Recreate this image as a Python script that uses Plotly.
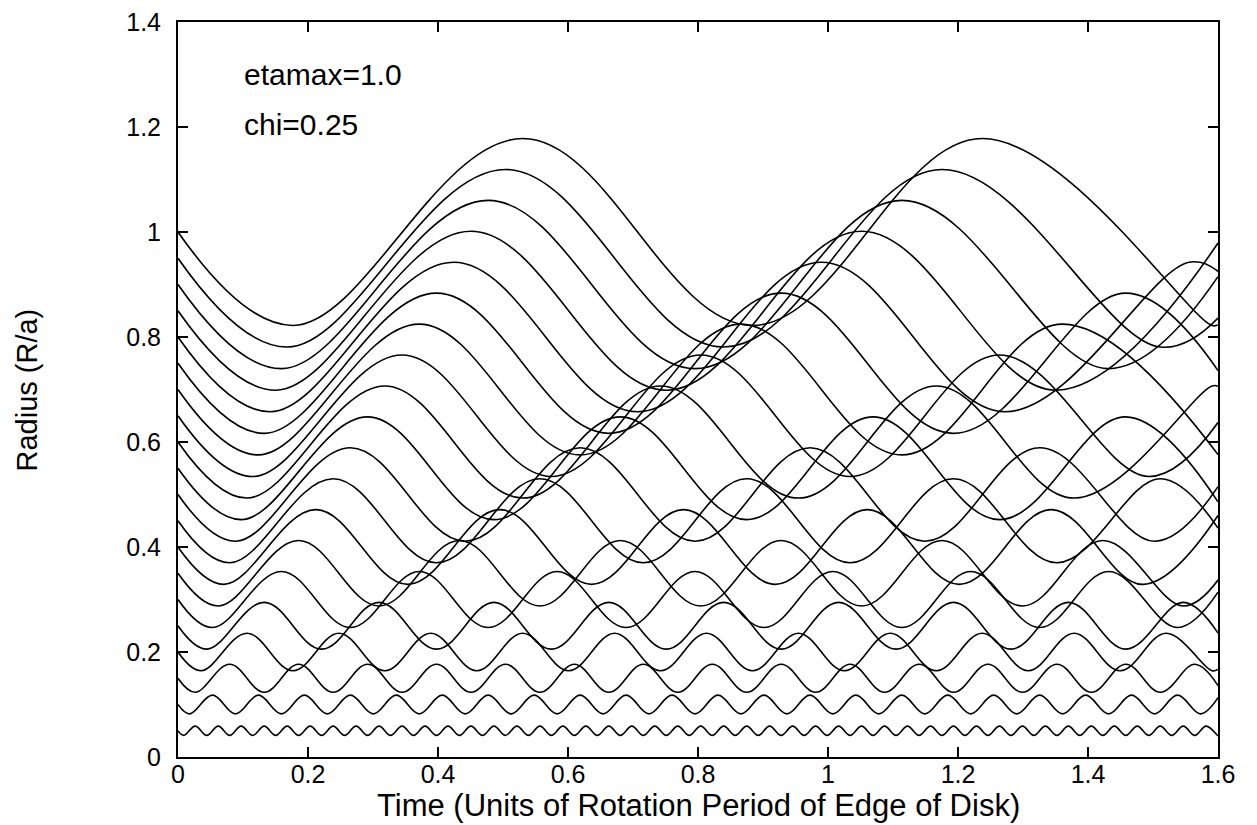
import plotly.graph_objects as go

# Starting radius of each ring (R/a at t=0)
START = [0.05, 0.10, 0.15, 0.20, 0.25, 0.30, 0.35, 0.40, 0.45, 0.50,
         0.55, 0.60, 0.65, 0.70, 0.75, 0.80, 0.85, 0.90, 0.95, 1.00]
# Radius of each ring at the right edge (t=1.6)
END = [0.041, 0.113, 0.136, 0.167, 0.236, 0.314, 0.337, 0.460, 0.436, 0.515,
       0.486, 0.706, 0.637, 0.576, 0.736, 0.925, 0.979, 0.915, 0.836, 0.823]
# Minimum / maximum radius reached by each ring
LO = [0.0411, 0.0822, 0.1233, 0.1644, 0.2055, 0.2466, 0.2877, 0.3288, 0.3699, 0.4110,
      0.4521, 0.4932, 0.5343, 0.5754, 0.6165, 0.6576, 0.6987, 0.7398, 0.7809, 0.8220]
HI = [0.0589, 0.1178, 0.1767, 0.2356, 0.2945, 0.3534, 0.4123, 0.4712, 0.5301, 0.5890,
      0.6479, 0.7068, 0.7657, 0.8246, 0.8835, 0.9424, 1.0013, 1.0602, 1.1191, 1.1780]

# Times of successive turning points (min, max, min, ...) for each ring
T01 = [0.0088, 0.0265, 0.0442, 0.0619, 0.0795, 0.0972, 0.1149, 0.1326, 0.1502, 0.1679,
       0.1856, 0.2033, 0.2210, 0.2386, 0.2563, 0.2740, 0.2917, 0.3093, 0.3270, 0.3447,
       0.3624, 0.3800, 0.3977, 0.4154, 0.4330, 0.4507, 0.4684, 0.4861, 0.5037, 0.5214,
       0.5391, 0.5568, 0.5744, 0.5921, 0.6098, 0.6275, 0.6451, 0.6628, 0.6805, 0.6982,
       0.7158, 0.7335, 0.7512, 0.7689, 0.7865, 0.8042, 0.8219, 0.8395, 0.8572, 0.8749,
       0.8926, 0.9102, 0.9279, 0.9456, 0.9633, 0.9809, 0.9986, 1.0163, 1.0340, 1.0516,
       1.0693, 1.0870, 1.1047, 1.1223, 1.1400, 1.1577, 1.1753, 1.1930, 1.2107, 1.2284,
       1.2460, 1.2637, 1.2814, 1.2991, 1.3167, 1.3344, 1.3521, 1.3698, 1.3874, 1.4051,
       1.4228, 1.4405, 1.4581, 1.4758, 1.4935, 1.5111, 1.5288, 1.5465, 1.5642, 1.5818,
       1.5995]
T02 = [0.0177, 0.0530, 0.0884, 0.1237, 0.1591, 0.1944, 0.2298, 0.2651, 0.3005, 0.3358,
       0.3712, 0.4065, 0.4419, 0.4772, 0.5126, 0.5479, 0.5833, 0.6186, 0.6540, 0.6893,
       0.7247, 0.7600, 0.7954, 0.8307, 0.8661, 0.9014, 0.9368, 0.9721, 1.0075, 1.0428,
       1.0782, 1.1135, 1.1489, 1.1842, 1.2196, 1.2549, 1.2903, 1.3256, 1.3610, 1.3963,
       1.4317, 1.4670, 1.5024, 1.5377, 1.5731]
T03 = [0.0265, 0.0795, 0.1326, 0.1856, 0.2386, 0.2917, 0.3447, 0.3977, 0.4507, 0.5038,
       0.5568, 0.6098, 0.6629, 0.7159, 0.7689, 0.8220, 0.8750, 0.9280, 0.9811, 1.0341,
       1.0871, 1.1402, 1.1932, 1.2462, 1.2992, 1.3523, 1.4053, 1.4583, 1.5114, 1.5644]
T04 = [0.0354, 0.1061, 0.1768, 0.2475, 0.3182, 0.3889, 0.4596, 0.5303, 0.6010, 0.6717,
       0.7424, 0.8131, 0.8838, 0.9545, 1.0252, 1.0959, 1.1666, 1.2373, 1.3080, 1.3787,
       1.4494, 1.5201, 1.5908]
T05 = [0.0442, 0.1326, 0.2209, 0.3093, 0.3977, 0.4861, 0.5744, 0.6628, 0.7512, 0.8396,
       0.9279, 1.0163, 1.1047, 1.1931, 1.2814, 1.3698, 1.4582, 1.5466]
T06 = [0.0530, 0.1591, 0.2651, 0.3712, 0.4772, 0.5833, 0.6893, 0.7954, 0.9014, 1.0075,
       1.1135, 1.2196, 1.3256, 1.4317, 1.5377]
T07 = [0.0619, 0.1856, 0.3093, 0.4330, 0.5568, 0.6805, 0.8042, 0.9279, 1.0517, 1.1754,
       1.2991, 1.4228, 1.5466]
T08 = [0.0707, 0.2121, 0.3535, 0.4949, 0.6363, 0.7777, 0.9191, 1.0605, 1.2019, 1.3433,
       1.4847]
T09 = [0.0795, 0.2386, 0.3977, 0.5568, 0.7158, 0.8749, 1.0340, 1.1931, 1.3521, 1.5112]
T10 = [0.0884, 0.2652, 0.4420, 0.6188, 0.7956, 0.9724, 1.1492, 1.3260, 1.5028]
T11 = [0.0972, 0.2916, 0.4860, 0.6805, 0.8749, 1.0693, 1.2637, 1.4581]
T12 = [0.1061, 0.3182, 0.5303, 0.7424, 0.9545, 1.1666, 1.3787, 1.5908]
T13 = [0.1149, 0.3447, 0.5744, 0.8042, 1.0340, 1.2638, 1.4935]
T14 = [0.1237, 0.3712, 0.6186, 0.8661, 1.1135, 1.3610]
T15 = [0.1326, 0.3977, 0.6628, 0.9279, 1.1930, 1.4582]
T16 = [0.1414, 0.4242, 0.7070, 0.9898, 1.2726, 1.5554]
T17 = [0.1502, 0.4507, 0.7512, 1.0517, 1.3521]
T18 = [0.1591, 0.4772, 0.7954, 1.1135, 1.4317]
T19 = [0.1679, 0.5037, 0.8396, 1.1754, 1.5112]
T20 = [0.1768, 0.5303, 0.8838, 1.2373, 1.5908]

TURNS = [T01, T02, T03, T04, T05, T06, T07, T08, T09, T10,
         T11, T12, T13, T14, T15, T16, T17, T18, T19, T20]

X_TICKS = [0, 0.2, 0.4, 0.6, 0.8, 1.0, 1.2, 1.4, 1.6]
Y_TICKS = [0, 0.2, 0.4, 0.6, 0.8, 1.0, 1.2, 1.4]
T_MAX = 1.6

FONT = "Liberation Sans, Arial, Helvetica, sans-serif"

fig = go.Figure()
for i, times in enumerate(TURNS):
    xs = [0.0]
    ys = [START[i]]
    for j, t in enumerate(times):
        xs.append(t)
        ys.append(LO[i] if j % 2 == 0 else HI[i])
    if xs[-1] < T_MAX:
        xs.append(T_MAX)
        ys.append(END[i])
    fig.add_trace(go.Scatter(
        x=xs, y=ys, mode="lines",
        line=dict(color="black", width=1.6, shape="spline", smoothing=1.1),
        hoverinfo="skip", showlegend=False,
    ))

axis_common = dict(
    showgrid=False, zeroline=False, showline=True, linecolor="black", linewidth=2,
    mirror="ticks", ticks="inside", ticklen=10, tickwidth=1.5, tickcolor="black",
    tickfont=dict(family=FONT, size=25, color="black"),
    ticklabeloverflow="allow", automargin=False,
)
fig.update_xaxes(range=[0, 1.6], tickvals=X_TICKS, ticklabelstandoff=-6, **axis_common)
fig.update_yaxes(range=[0, 1.4], tickvals=Y_TICKS, ticklabelstandoff=10, **axis_common)

fig.add_annotation(x=0.098, y=1.30, xref="x", yref="y", text="etamax=1.0",
                   showarrow=False, xanchor="left", yanchor="middle",
                   font=dict(family=FONT, size=30, color="black"))
fig.add_annotation(x=0.098, y=1.204, xref="x", yref="y", text="chi=0.25",
                   showarrow=False, xanchor="left", yanchor="middle",
                   font=dict(family=FONT, size=30, color="black"))
fig.add_annotation(x=0.5, y=-0.066, xref="paper", yref="paper",
                   text="Time (Units of Rotation Period of Edge of Disk)",
                   showarrow=False, xanchor="center", yanchor="middle",
                   font=dict(family=FONT, size=31, color="black"))
fig.add_annotation(x=-0.1452, y=0.5, xref="paper", yref="paper",
                   text="Radius (R/a)", textangle=-90,
                   showarrow=False, xanchor="center", yanchor="middle",
                   font=dict(family=FONT, size=29, color="black"))

# The page body adds an 8px margin, so the figure is sized to fit the window
fig.update_layout(
    width=1249, height=817,
    margin=dict(l=170, r=39, t=14, b=68, autoexpand=False),
    paper_bgcolor="white", plot_bgcolor="white",
)

fig.write_html("out.html")
